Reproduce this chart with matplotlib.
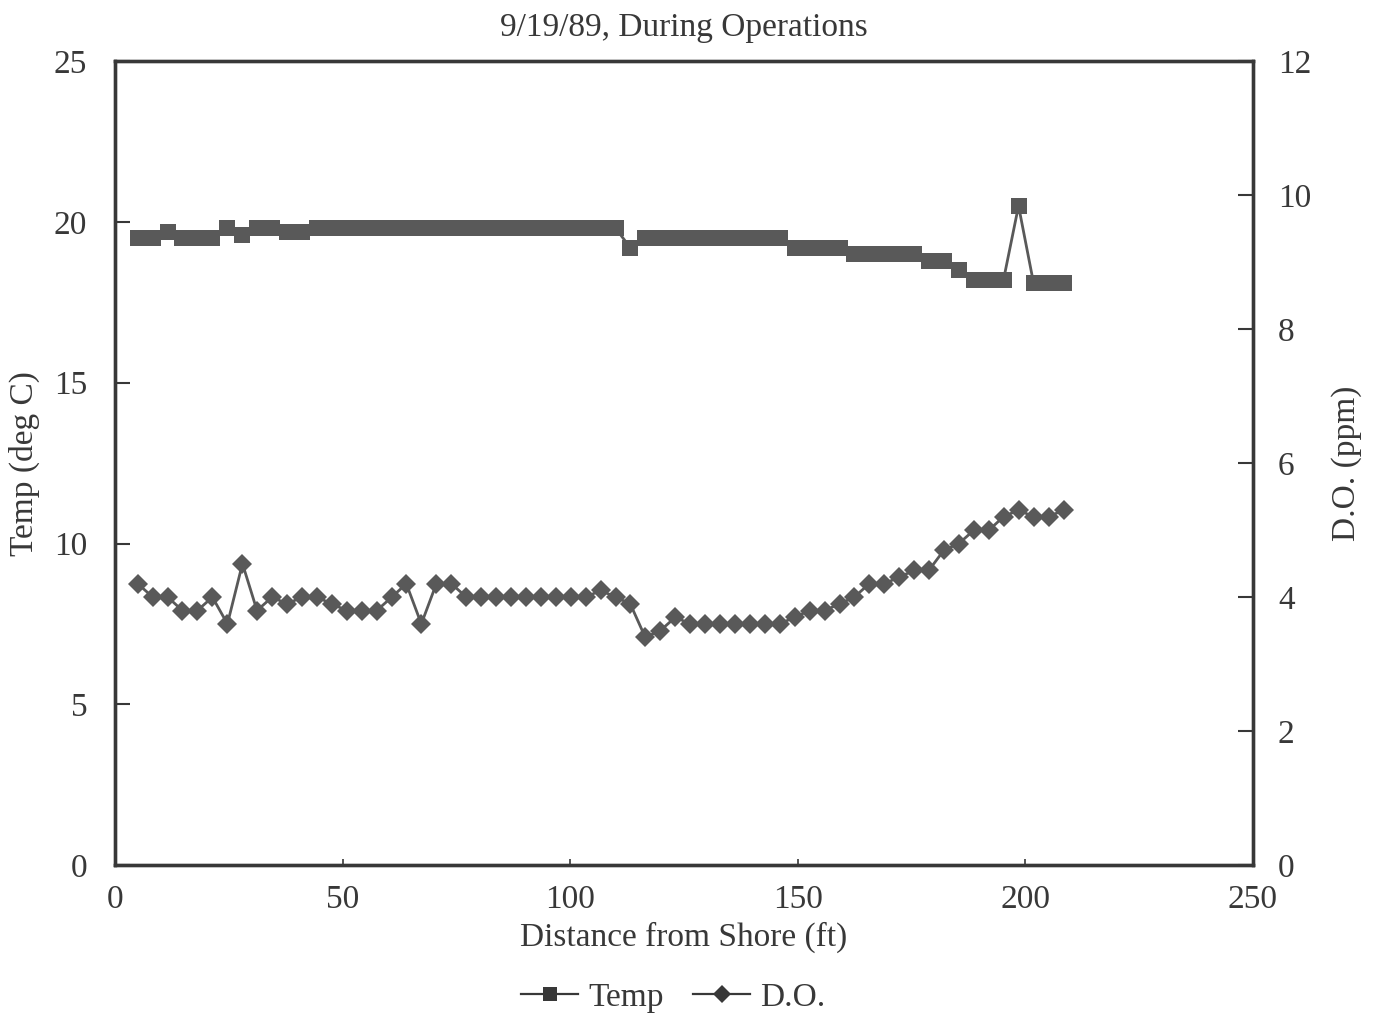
import matplotlib
matplotlib.use("Agg")
import matplotlib.pyplot as plt
from matplotlib.lines import Line2D

# distance from shore (ft)
distance_ft = [5.0, 8.3, 11.6, 14.8, 18.1, 21.4, 24.7, 28.0, 31.2, 34.5,
               37.8, 41.1, 44.4, 47.6, 50.9, 54.2, 57.5, 60.8, 64.0, 67.3,
               70.6, 73.9, 77.2, 80.4, 83.7, 87.0, 90.3, 93.6, 96.8, 100.1,
               103.4, 106.7, 110.0, 113.2, 116.5, 119.8, 123.1, 126.4, 129.6, 132.9,
               136.2, 139.5, 142.8, 146.0, 149.3, 152.6, 155.9, 159.2, 162.4, 165.7,
               169.0, 172.3, 175.6, 178.8, 182.1, 185.4, 188.7, 192.0, 195.2, 198.5,
               201.8, 205.1, 208.4]

temp_c = [19.5, 19.5, 19.7, 19.5, 19.5, 19.5, 19.8, 19.6, 19.8, 19.8,
          19.7, 19.7, 19.8, 19.8, 19.8, 19.8, 19.8, 19.8, 19.8, 19.8,
          19.8, 19.8, 19.8, 19.8, 19.8, 19.8, 19.8, 19.8, 19.8, 19.8,
          19.8, 19.8, 19.8, 19.2, 19.5, 19.5, 19.5, 19.5, 19.5, 19.5,
          19.5, 19.5, 19.5, 19.5, 19.2, 19.2, 19.2, 19.2, 19.0, 19.0,
          19.0, 19.0, 19.0, 18.8, 18.8, 18.5, 18.2, 18.2, 18.2, 20.5,
          18.1, 18.1, 18.1]

do_ppm = [4.2, 4.0, 4.0, 3.8, 3.8, 4.0, 3.6, 4.5, 3.8, 4.0,
          3.9, 4.0, 4.0, 3.9, 3.8, 3.8, 3.8, 4.0, 4.2, 3.6,
          4.2, 4.2, 4.0, 4.0, 4.0, 4.0, 4.0, 4.0, 4.0, 4.0,
          4.0, 4.1, 4.0, 3.9, 3.4, 3.5, 3.7, 3.6, 3.6, 3.6,
          3.6, 3.6, 3.6, 3.6, 3.7, 3.8, 3.8, 3.9, 4.0, 4.2,
          4.2, 4.3, 4.4, 4.4, 4.7, 4.8, 5.0, 5.0, 5.2, 5.3,
          5.2, 5.2, 5.3]

x_ticks = [0, 50, 100, 150, 200, 250]
temp_ticks = [0, 5, 10, 15, 20, 25]
do_ticks = [0, 2, 4, 6, 8, 10, 12]

plt.rcParams['font.family'] = ['Liberation Serif', 'DejaVu Serif']

INK = '#383838'
MARK = '#595959'
FS = 24

fig = plt.figure(figsize=(13.74, 10.19), dpi=100)
ax = fig.add_axes([0.0837, 0.151, 0.8282, 0.789])
ax2 = ax.twinx()

ax.plot(distance_ft, temp_c, color=MARK, lw=2, marker='s', ms=11,
        markeredgewidth=0, zorder=3)
ax2.plot(distance_ft, do_ppm, color=MARK, lw=2, marker='D', ms=10.5,
         markeredgewidth=0, zorder=3)

ax.set_xlim(0, 250)
ax.set_ylim(0, 25)
ax2.set_ylim(0, 12)
ax.set_xticks(x_ticks)
ax.set_yticks(temp_ticks)
ax2.set_yticks(do_ticks)

for a in (ax, ax2):
    for s in a.spines.values():
        s.set_linewidth(2.4)
        s.set_color(INK)

ax.tick_params(axis='y', direction='in', length=11, width=1.5, color=INK,
               labelsize=FS, labelcolor=INK, pad=20)
ax.tick_params(axis='x', direction='in', length=4, width=1.2, color=INK,
               labelsize=FS, labelcolor=INK, pad=14)
ax2.tick_params(axis='y', direction='in', length=11, width=1.5, color=INK,
                labelsize=FS, labelcolor=INK, pad=18)

ax.set_xlabel('Distance from Shore (ft)', fontsize=FS, color=INK, labelpad=5)
ax.set_ylabel('Temp (deg C)', fontsize=FS, color=INK, labelpad=10)
ax2.set_ylabel('D.O. (ppm)', fontsize=FS, color=INK, labelpad=14)
ax.set_title('9/19/89, During Operations', fontsize=FS, color=INK, pad=18)

handles = [Line2D([], [], color=INK, lw=1.6, marker='s', ms=10, markeredgewidth=0),
           Line2D([], [], color=INK, lw=1.6, marker='D', ms=9, markeredgewidth=0)]
fig.legend(handles, ['Temp', 'D.O.'], loc='center', bbox_to_anchor=(0.490, 0.021),
           ncol=2, frameon=False, fontsize=FS, handlelength=1.7,
           handletextpad=0.3, columnspacing=0.9, labelcolor=INK)

fig.savefig('out.png', dpi=100)
